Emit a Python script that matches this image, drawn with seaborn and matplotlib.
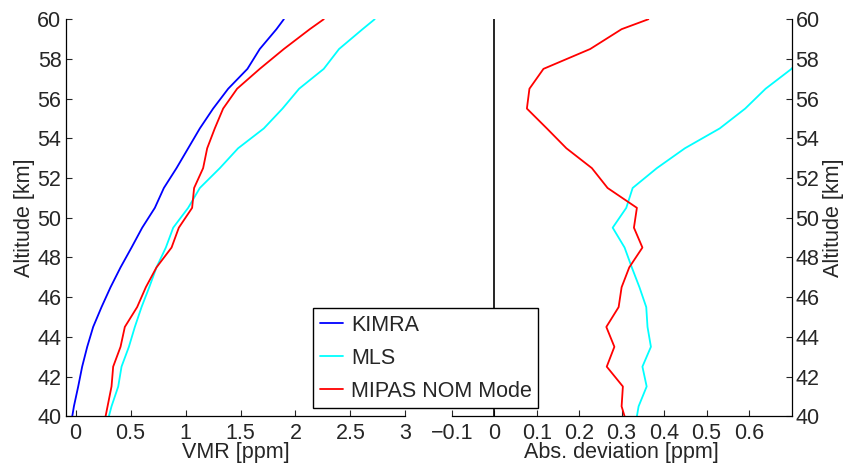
import matplotlib
matplotlib.use("Agg")
import matplotlib.pyplot as plt
import seaborn as sns
import pandas as pd

# altitude grid [km]
altitude = [40, 40.5, 41.5, 42.5, 43.5, 44.5, 45.5, 46.5, 47.5, 48.5, 49.5,
            50.5, 51.5, 52.5, 53.5, 54.5, 55.5, 56.5, 57.5, 58.5, 59.5, 60]

# VMR profiles [ppm]
kimra = [-0.03, -0.015, 0.024, 0.06, 0.106, 0.16, 0.236, 0.318, 0.409, 0.509, 0.606,
         0.721, 0.803, 0.918, 1.024, 1.13, 1.251, 1.388, 1.563, 1.675, 1.827, 1.894]
mls = [0.303, 0.327, 0.388, 0.418, 0.485, 0.539, 0.60, 0.67, 0.736, 0.821, 0.888,
       1.024, 1.13, 1.312, 1.478, 1.712, 1.882, 2.033, 2.257, 2.396, 2.61, 2.72]
mipas = [0.273, 0.291, 0.327, 0.342, 0.409, 0.448, 0.56, 0.639, 0.736, 0.873, 0.939,
         1.06, 1.078, 1.16, 1.197, 1.266, 1.342, 1.469, 1.675, 1.894, 2.13, 2.257]

# absolute deviation from KIMRA [ppm]
mls_dev = [0.336, 0.34, 0.359, 0.349, 0.369, 0.361, 0.358, 0.342, 0.324, 0.307, 0.279,
           0.311, 0.326, 0.383, 0.449, 0.531, 0.591, 0.639, 0.70, 0.74, 0.79, 0.83]
mipas_dev = [0.307, 0.30, 0.303, 0.265, 0.283, 0.264, 0.293, 0.30, 0.318, 0.349, 0.329,
             0.336, 0.267, 0.23, 0.17, 0.124, 0.077, 0.083, 0.116, 0.226, 0.30, 0.363]

labels = ["KIMRA", "MLS", "MIPAS NOM Mode"]
colors = ["#0000ff", "#00ffff", "#ff0000"]

sns.set_style("white")
plt.rcParams["font.family"] = ["Liberation Sans", "DejaVu Sans"]
fs = 15.5

fig = plt.figure(figsize=(8.44, 4.66), dpi=100)
ax1 = fig.add_axes([0.0778, 0.1067, 0.4026, 0.852])
ax2 = fig.add_axes([0.5352, 0.1067, 0.4026, 0.852])

# left panel: profiles
profiles = pd.DataFrame({"altitude": altitude, "KIMRA": kimra, "MLS": mls, "MIPAS NOM Mode": mipas})
for name, c in zip(labels, colors):
    sns.lineplot(data=profiles, x=name, y="altitude", sort=False, estimator=None,
                 color=c, lw=1.3, ax=ax1, legend=False)

ax1.set_xlim(-0.09, 3)
ax1.set_ylim(40, 60)
ax1.set_xticks([0, 0.5, 1, 1.5, 2, 2.5, 3])
ax1.set_xticklabels(["0", "0.5", "1", "1.5", "2", "2.5", "3"])
ax1.set_yticks(range(40, 61, 2))
ax1.set_xlabel("VMR [ppm]", fontsize=fs, labelpad=-1.5)
ax1.set_ylabel("Altitude [km]", fontsize=fs, labelpad=2)
sns.despine(ax=ax1)

# right panel: deviations
devs = pd.DataFrame({"altitude": altitude, "MLS": mls_dev, "MIPAS NOM Mode": mipas_dev})
for name, c in zip(labels[1:], colors[1:]):
    sns.lineplot(data=devs, x=name, y="altitude", sort=False, estimator=None,
                 color=c, lw=1.3, ax=ax2, legend=False)
ax2.axvline(0, color="black", lw=1.2, zorder=1)

ax2.set_xlim(-0.1, 0.7)
ax2.set_ylim(40, 60)
ax2.set_xticks([-0.1, 0, 0.1, 0.2, 0.3, 0.4, 0.5, 0.6])
ax2.set_xticklabels(["\u22120.1", "0", "0.1", "0.2", "0.3", "0.4", "0.5", "0.6"])
ax2.set_yticks(range(40, 61, 2))
ax2.yaxis.tick_right()
ax2.yaxis.set_label_position("right")
ax2.set_xlabel("Abs. deviation [ppm]", fontsize=fs, labelpad=-1.5)
ax2.set_ylabel("Altitude [km]", fontsize=fs, rotation=90, labelpad=2)
sns.despine(ax=ax2, left=True, right=False)

for ax in (ax1, ax2):
    ax.tick_params(axis="y", pad=3)
    ax.tick_params(axis="x", pad=5)
    ax.tick_params(direction="in", length=4, width=0.8, labelsize=fs,
                   left=(ax is ax1), right=(ax is ax2), bottom=True)
    for s in ax.spines.values():
        s.set_color("black")
        s.set_linewidth(0.9)

handles = [plt.Line2D([], [], color=c, lw=1.3) for c in colors]
leg = fig.legend(handles, labels, loc="lower left", bbox_to_anchor=(0.371, 0.1245),
                 fontsize=fs, frameon=True, fancybox=False, edgecolor="black",
                 framealpha=1, handlelength=1.1, handletextpad=0.35,
                 borderpad=0.3, labelspacing=0.55, borderaxespad=0)
leg.get_frame().set_linewidth(1.0)

fig.savefig("out.png", dpi=100)
